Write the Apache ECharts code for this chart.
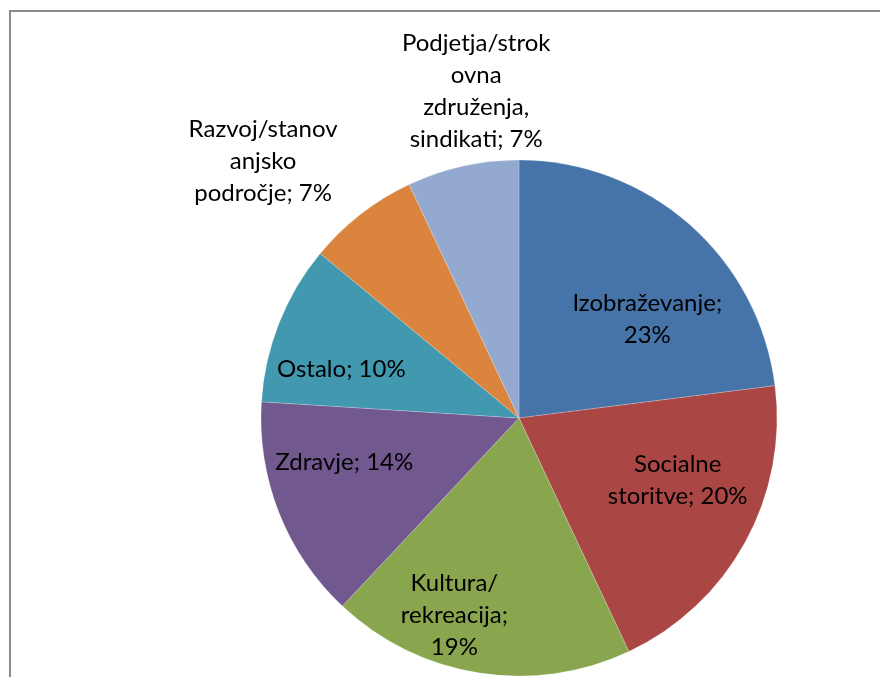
<!DOCTYPE html>
<html>
<head>
<meta charset="utf-8">
<script src="https://cdn.jsdelivr.net/npm/echarts@6/dist/echarts.min.js"></script>
<style>
	html, body { margin: 0; padding: 0; background: #fff; }
	#pieChart { width: 880px; height: 677px; }
</style>
</head>
<body>
<div id="pieChart"></div>
<script>
	// podatki
	var categories = ['Izobraževanje', 'Socialne storitve', 'Kultura/rekreacija', 'Zdravje', 'Ostalo',
		'Razvoj/stanovanjsko področje', 'Podjetja/strokovna združenja, sindikati'];
	var shares = [23, 20, 19, 14, 10, 7, 7];
	// besedilo oznak, prelomljeno kot v izvirniku
	var labelTexts = ['Izobraževanje;\n{c}%', 'Socialne\nstoritve; {c}%', 'Kultura/\nrekreacija;\n{c}%',
		'Zdravje; {c}%', 'Ostalo; {c}%', 'Razvoj/stanov\nanjsko\npodročje; {c}%',
		'Podjetja/strok\novna\nzdruženja,\nsindikati; {c}%'];

	var colors = ['#4674A9', '#AA4644', '#89A54E', '#71588F', '#4198AF', '#DB843D', '#93A9CF'];
	// zamik oznak od privzete lege 'inside'
	var labelShift = [[41, 0], [43, -1], [-44, 67], [-52, -4], [-55, 0], [-175, -152], [-14, -198]];

	var pieData = [];
	categories.forEach(function (name, i) {
		pieData.push({
			name: name,
			value: shares[i],
			label: { formatter: labelTexts[i] }
		});
	});

	var chart = echarts.init(document.getElementById('pieChart'), null, { renderer: 'canvas' });
	chart.setOption({
		animation: false,
		color: colors,
		graphic: [{
			type: 'rect',
			shape: { x: 10, y: 11, width: 900, height: 700 },
			style: { fill: 'none', stroke: '#8a8a8a', lineWidth: 2 },
			silent: true,
			z: -1
		}],
		series: [{
			type: 'pie',
			center: [519, 418],
			radius: 258,
			startAngle: 90,
			clockwise: true,
			itemStyle: { borderColor: 'rgba(255,255,255,0.35)', borderWidth: 0.6 },
			label: {
				show: true,
				position: 'inside',
				color: '#000',
				fontFamily: 'Lato',
				fontSize: 24,
				lineHeight: 32,
				align: 'center'
			},
			labelLine: { show: false },
			labelLayout: function (params) {
				var s = labelShift[params.dataIndex];
				return { dx: s[0], dy: s[1] };
			},
			emphasis: { disabled: true },
			data: pieData
		}]
	});
</script>
</body>
</html>
